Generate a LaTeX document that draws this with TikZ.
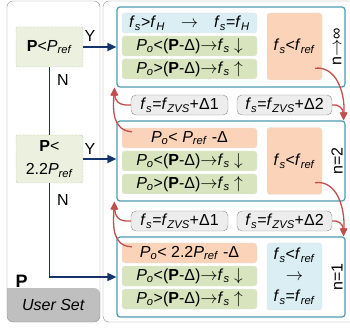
\documentclass[tikz,border=0pt]{standalone}
\usepackage{fontspec}
\setmainfont{Liberation Sans}
\usepackage{tikz}
\usetikzlibrary{calc,arrows.meta}
\definecolor{stageteal}{RGB}{75,155,175}
\definecolor{cellblue}{RGB}{218,238,243}
\definecolor{cellgreen}{RGB}{215,228,189}
\definecolor{cellorange}{RGB}{250,211,184}
\definecolor{cellgrey}{RGB}{237,237,237}
\definecolor{decgreen}{RGB}{235,241,222}
\definecolor{panelgrey}{RGB}{140,140,140}
\definecolor{userfill}{RGB}{191,191,191}
\definecolor{flownavy}{RGB}{24,50,110}
\definecolor{jumpred}{RGB}{192,80,77}
\newcommand{\sub}[2]{\textit{#1}\textsubscript{\textit{#2}}}
\newcommand{\ra}{$\rightarrow$}

\begin{document}
\begin{tikzpicture}[x=1pt,y=-1pt,font=\fontsize{16}{21}\selectfont,
  stage/.style={draw=stageteal,line width=1.2pt,rounded corners=3pt,minimum width=228pt,minimum height=80pt},
  row/.style={draw=black!10,rounded corners=3pt,minimum width=135pt,minimum height=20pt,inner sep=0pt},
  side/.style={draw=black!10,rounded corners=3pt,minimum width=55pt,minimum height=67pt,inner sep=0pt,align=center},
  delta/.style={draw=panelgrey,fill=cellgrey,rounded corners=5pt,minimum height=20pt,inner sep=0pt},
  decide/.style={draw=panelgrey,densely dotted,fill=decgreen,rounded corners=2pt,minimum width=67pt,inner sep=0pt,align=center},
  flow/.style={flownavy,line width=1.6pt,-{Triangle[length=9pt,width=8pt]}},
  jump/.style={jumpred,line width=1.3pt,-{Triangle[length=8pt,width=7pt]}}]
\useasboundingbox(0,0)rectangle(350,328);
% panels
\draw[panelgrey,rounded corners=6pt](103,1)rectangle(362,322);
\fill[userfill](7,288)[rounded corners=6pt]--(7,322)--(100,322)--(100,288)[sharp corners]--cycle;
\draw[panelgrey,rounded corners=6pt](7,1)rectangle(100,322);
\node[font=\fontsize{18}{18}\selectfont\bfseries,anchor=west](pset)at(12,281){P};
\node(user)at(53.5,305){\textit{User Set}};
% stages
\node[stage](st1)at(231,47){};\node[stage](st2)at(231,161){};\node[stage](st3)at(231,277){};
\node[row,fill=cellblue](r11)at(189.5,23){\sub{f}{s}>\sub{f}{H}\quad\ra\quad\sub{f}{s}=\sub{f}{H}};
\node[row,fill=cellgreen](r12)at(189.5,46){\sub{P}{o}<(\textbf{P}-Δ)\ra\sub{f}{s} $\downarrow$};
\node[row,fill=cellgreen](r13)at(189.5,69){\sub{P}{o}>(\textbf{P}-Δ)\ra\sub{f}{s} $\uparrow$};
\node[side,fill=cellorange](s1)at(294.5,46.5){\sub{f}{s}<\sub{f}{ref}};
\node[rotate=90](n1)at(337,47){n\ra∞};
\node[row,fill=cellorange](r21)at(189.5,138){\sub{P}{o}< \sub{P}{ref} -Δ};
\node[row,fill=cellgreen](r22)at(189.5,161){\sub{P}{o}<(\textbf{P}-Δ)\ra\sub{f}{s} $\downarrow$};
\node[row,fill=cellgreen](r23)at(189.5,184){\sub{P}{o}>(\textbf{P}-Δ)\ra\sub{f}{s} $\uparrow$};
\node[side,fill=cellorange](s2)at(294.5,161){\sub{f}{s}<\sub{f}{ref}};
\node[rotate=90](n2)at(337,161){n=2};
\node[row,fill=cellorange](r31)at(189.5,253){\sub{P}{o}< 2.2\sub{P}{ref} -Δ};
\node[row,fill=cellgreen](r32)at(189.5,276){\sub{P}{o}<(\textbf{P}-Δ)\ra\sub{f}{s} $\downarrow$};
\node[row,fill=cellgreen](r33)at(189.5,299){\sub{P}{o}>(\textbf{P}-Δ)\ra\sub{f}{s} $\uparrow$};
\node[side,fill=cellblue](s3)at(294.5,276.5){\sub{f}{s}<\sub{f}{ref}\\\ra\\\sub{f}{s}=\sub{f}{ref}};
\node[rotate=90](n3)at(337,277){n=1};
% frequency steps
\node[delta,minimum width=97pt](da1)at(179.5,105){\sub{f}{s}=\sub{f}{ZVS}+Δ1};
\node[delta,minimum width=95pt](da2)at(284.5,105){\sub{f}{s}=\sub{f}{ZVS}+Δ2};
\node[delta,minimum width=97pt](db1)at(179.5,221){\sub{f}{s}=\sub{f}{ZVS}+Δ1};
\node[delta,minimum width=95pt](db2)at(284.5,221){\sub{f}{s}=\sub{f}{ZVS}+Δ2};
% decisions
\node[decide,minimum height=40pt](dec1)at(49.5,47){\textbf{P}<\sub{P}{ref}};
\node[decide,minimum height=48pt,font=\fontsize{16}{23}\selectfont](dec2)at(49.5,159){\textbf{P}<\\2.2\sub{P}{ref}};
\draw[flow](dec1.east)--(dec1.east-|st1.west);
\draw[flownavy,line width=1.6pt](dec1.south)--(dec2.north);
\draw[flow](dec2.east)--(dec2.east-|st2.west);
\draw[flow](dec2.south)|-(st3.west);
\node(y1)at(90,36){Y};\node(y2)at(90,149){Y};
\node(no1)at(63,80){N};\node(no2)at(63,200){N};
% jumps between stages
\coordinate(t12)at($(st2.north east)+(-2,0)$);\coordinate(t23)at($(st3.north east)+(-2,0)$);
\coordinate(t21)at($(st1.south west)+(-2,0)$);\coordinate(t32)at($(st2.south west)+(-2,0)$);
\draw[jump]($(s1.south east)+(-7,-12)$)..controls(336,66)and(345,92)..(t12);
\draw[jump](da2.east)..controls(338,104)and(343,108)..(t12);
\draw[jump]($(s2.south east)+(-7,-12)$)..controls(336,180)and(345,206)..(t23);
\draw[jump](db2.east)..controls(338,220)and(343,224)..(t23);
\draw[jump]($(r21.north west)+(10,4)$)..controls(112,130)and(113,110)..(t21);
\draw[jump](da1.west)..controls(118,106)and(115,100)..(t21);
\draw[jump]($(r31.north west)+(10,4)$)..controls(112,246)and(113,226)..(t32);
\draw[jump](db1.west)..controls(118,222)and(115,216)..(t32);
\end{tikzpicture}
\end{document}
